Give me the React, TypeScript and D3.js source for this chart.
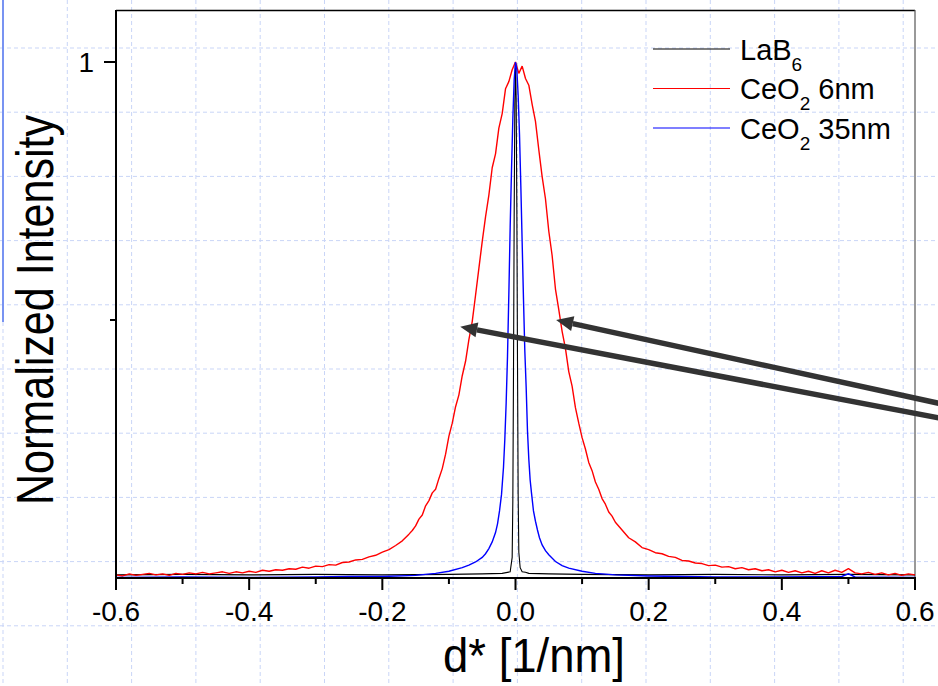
import React from "react";
import * as d3 from "d3";

// d* [1/nm] and normalized intensity
const redD = [-0.6,-0.59,-0.58,-0.57,-0.56,-0.55,-0.54,-0.53,-0.52,-0.51,-0.5,-0.49,-0.48,-0.47,-0.46,-0.45,-0.44,-0.43,-0.42,-0.41,-0.4,-0.39,-0.38,-0.37,-0.36,-0.35,-0.34,-0.33,-0.32,-0.31,-0.3,-0.29,-0.28,-0.27,-0.26,-0.25,-0.24,-0.23,-0.22,-0.21,-0.2,-0.19,-0.18,-0.17,-0.16,-0.155,
  -0.15,-0.145,-0.14,-0.135,-0.13,-0.125,-0.12,-0.115,-0.11,-0.105,-0.1,-0.095,-0.09,-0.085,-0.08,-0.075,-0.07,-0.065,-0.06,-0.055,-0.05,-0.045,-0.04,-0.035,-0.03,-0.025,-0.02,-0.015,-0.01,-0.005,0,
  0.005,0.01,0.015,0.02,0.025,0.03,0.035,0.04,0.045,0.05,0.055,0.06,0.065,0.07,0.075,0.08,0.085,0.09,0.095,0.1,0.105,0.11,0.115,0.12,0.125,0.13,0.135,0.14,0.145,0.15,
  0.16,0.17,0.18,0.19,0.2,0.21,0.22,0.23,0.24,0.25,0.26,0.27,0.28,0.29,0.3,0.31,0.32,0.33,0.34,0.35,0.36,0.37,0.38,0.39,0.4,0.41,0.42,0.43,0.44,0.45,0.46,0.47,0.48,0.49,0.5,0.51,0.52,0.53,0.54,0.55,0.56,0.57,0.58,0.59,0.6];
const redI = [0.006,0.004,0.008,0.005,0.007,0.009,0.006,0.008,0.005,0.009,0.007,0.01,0.008,0.011,0.008,0.01,0.012,0.009,0.012,0.01,0.013,0.011,0.015,0.013,0.016,0.015,0.018,0.017,0.021,0.019,0.023,0.022,0.026,0.025,0.03,0.031,0.035,0.036,0.041,0.044,0.05,0.055,0.063,0.072,0.085,0.092,
  0.101,0.114,0.122,0.14,0.15,0.165,0.172,0.193,0.212,0.24,0.275,0.3,0.332,0.355,0.392,0.42,0.462,0.497,0.548,0.6,0.652,0.7,0.742,0.795,0.822,0.872,0.9,0.948,0.962,0.985,1.0,
  0.978,0.992,0.968,0.955,0.918,0.885,0.83,0.778,0.735,0.672,0.625,0.56,0.52,0.478,0.445,0.4,0.372,0.33,0.3,0.272,0.25,0.224,0.208,0.186,0.172,0.154,0.143,0.128,0.12,0.108,
  0.093,0.078,0.07,0.059,0.055,0.049,0.047,0.042,0.04,0.034,0.033,0.029,0.028,0.024,0.025,0.021,0.022,0.018,0.02,0.016,0.018,0.014,0.016,0.012,0.015,0.011,0.014,0.01,0.013,0.009,0.014,0.01,0.015,0.011,0.018,0.01,0.008,0.011,0.007,0.01,0.006,0.009,0.005,0.008,0.006];

const blueD = [-0.6,-0.5,-0.4,-0.3,-0.25,-0.2,-0.15,-0.12,-0.1,-0.08,-0.07,-0.06,-0.05,-0.045,-0.04,-0.035,-0.03,-0.027,-0.024,-0.021,-0.018,-0.016,-0.014,-0.012,-0.01,-0.008,-0.006,-0.004,-0.002,0,
  0.002,0.004,0.006,0.008,0.01,0.012,0.014,0.016,0.018,0.02,0.022,0.024,0.027,0.03,0.033,0.036,0.04,0.045,0.05,0.06,0.07,0.08,0.1,0.12,0.15,0.2,0.25,0.3,0.4,0.49,0.5,0.51,0.6];
const blueI = [0.001,0.002,0.001,0.002,0.003,0.003,0.005,0.009,0.013,0.02,0.025,0.031,0.04,0.047,0.057,0.07,0.088,0.105,0.13,0.162,0.215,0.27,0.34,0.43,0.55,0.68,0.79,0.89,0.965,1.0,
  0.985,0.935,0.86,0.76,0.65,0.54,0.44,0.37,0.285,0.23,0.19,0.165,0.13,0.11,0.093,0.078,0.064,0.053,0.045,0.032,0.024,0.019,0.013,0.009,0.006,0.004,0.003,0.002,0.002,0.003,0.008,0.002,0.001];

const blackD = [-0.6,-0.5,-0.4,-0.3,-0.2,-0.1,-0.05,-0.02,-0.008,-0.005,-0.004,-0.003,-0.002,-0.001,0,0.001,0.002,0.003,0.004,0.005,0.007,0.01,0.015,0.02,0.05,0.1,0.2,0.3,0.4,0.5,0.6];
const blackI = [0.006,0.007,0.006,0.007,0.006,0.007,0.008,0.009,0.012,0.04,0.15,0.4,0.7,0.92,1.0,0.93,0.72,0.42,0.16,0.05,0.02,0.012,0.011,0.009,0.008,0.007,0.006,0.007,0.006,0.007,0.006];

const xTicks = [-0.6, -0.4, -0.2, 0, 0.2, 0.4, 0.6];
const xMinor = [-0.5, -0.3, -0.1, 0.1, 0.3, 0.5];
const yTicks = [1];
const yMinor = [0.5];

// arrows: [tipD, tipI, tailD, tailI]
const arrows = [
  [0.061, 0.5, 0.645, 0.336],
  [-0.083, 0.487, 0.645, 0.308],
];

const W = 938, H = 686;
const FONT = "Arial, 'Liberation Sans', sans-serif";

export default function App() {
  const x = d3.scaleLinear().domain([-0.6, 0.6]).range([116, 915]);
  const y = d3.scaleLinear().domain([0, 1]).range([578, 62]);
  const line = d3.line<number[]>().x(p => x(p[0])).y(p => y(p[1]));
  const zip = (a: number[], b: number[]) => a.map((v, i) => [v, b[i]]);

  const gridX = d3.range(3, W, 64.3);
  const gridY = d3.range(-16.2, H, 64.2);

  const legend = [
    { color: "#000", main: "LaB", sub: "6", rest: "" },
    { color: "#ff0000", main: "CeO", sub: "2", rest: " 6nm" },
    { color: "#0000ff", main: "CeO", sub: "2", rest: " 35nm" },
  ];

  return (
    <svg width={W} height={H} style={{ position: "absolute", left: 0, top: 0, background: "#fff" }} fontFamily={FONT}>
      <g stroke="#c9d5f7" strokeWidth={1} strokeDasharray="4,3">
        {gridX.map(v => <line key={"gx" + v} x1={v} x2={v} y1={0} y2={H} />)}
        {gridY.map(v => <line key={"gy" + v} x1={0} x2={W} y1={v} y2={v} />)}
      </g>
      <line x1={3} x2={3} y1={0} y2={322} stroke="#7893f2" strokeWidth={2} />

      {/* frame */}
      <line x1={116} x2={915} y1={10.5} y2={10.5} stroke="#000" strokeWidth={1.5} />
      <line x1={915} x2={915} y1={10} y2={578} stroke="#555" strokeWidth={1.2} />

      <path d={line(zip(blackD, blackI)) || ""} fill="none" stroke="#000" strokeWidth={1.1} />
      <path d={line(zip(redD, redI)) || ""} fill="none" stroke="#ff0000" strokeWidth={1.4} strokeLinejoin="bevel" />
      <path d={line(zip(blueD, blueI)) || ""} fill="none" stroke="#0000ff" strokeWidth={1.4} />

      {/* axes */}
      <line x1={116} x2={116} y1={10} y2={579} stroke="#000" strokeWidth={2} />
      <line x1={115} x2={916} y1={578} y2={578} stroke="#000" strokeWidth={2} />
      {xTicks.map(t => (
        <g key={"xt" + t}>
          <line x1={x(t)} x2={x(t)} y1={578} y2={590} stroke="#000" strokeWidth={2} />
          <text x={x(t)} y={621} textAnchor="middle" fontSize={28}>{t.toFixed(1)}</text>
        </g>
      ))}
      {xMinor.map(t => <line key={"xm" + t} x1={x(t)} x2={x(t)} y1={578} y2={584} stroke="#000" strokeWidth={2} />)}
      {yTicks.map(t => (
        <g key={"yt" + t}>
          <line x1={104} x2={116} y1={y(t)} y2={y(t)} stroke="#000" strokeWidth={2} />
          <text x={94} y={y(t) + 10} textAnchor="end" fontSize={28}>{t}</text>
        </g>
      ))}
      {yMinor.map(t => <line key={"ym" + t} x1={110} x2={116} y1={y(t)} y2={y(t)} stroke="#000" strokeWidth={2} />)}

      <text x={534} y={672} textAnchor="middle" fontSize={48} textLength={182} lengthAdjust="spacingAndGlyphs">d* [1/nm]</text>
      <text transform="translate(53,310) rotate(-90)" textAnchor="middle" fontSize={52} textLength={390} lengthAdjust="spacingAndGlyphs">Normalized Intensity</text>

      {/* legend */}
      {legend.map((l, i) => {
        const ly = 49 + i * 39.5;
        return (
          <g key={"lg" + i}>
            <line x1={653} x2={730} y1={ly} y2={ly} stroke={l.color} strokeWidth={1.2} />
            <text x={740} y={ly + 10.5} fontSize={29}>
              {l.main}
              <tspan fontSize={19} dy={11}>{l.sub}</tspan>
              {l.rest && <tspan dy={-11}>{l.rest}</tspan>}
            </text>
          </g>
        );
      })}

      {/* arrows */}
      {arrows.map((a, i) => {
        const x1 = x(a[0]), y1 = y(a[1]), x2 = x(a[2]), y2 = y(a[3]);
        const ang = Math.atan2(y2 - y1, x2 - x1);
        const hl = 17, hw = 7.5;
        const bx = x1 + hl * Math.cos(ang), by = y1 + hl * Math.sin(ang);
        const px = -Math.sin(ang) * hw, py = Math.cos(ang) * hw;
        return (
          <g key={"ar" + i}>
            <line x1={bx} y1={by} x2={x2} y2={y2} stroke="#333" strokeWidth={5.5} />
            <polygon points={`${x1},${y1} ${bx + px},${by + py} ${bx - px},${by - py}`} fill="#333" />
          </g>
        );
      })}
    </svg>
  );
}
